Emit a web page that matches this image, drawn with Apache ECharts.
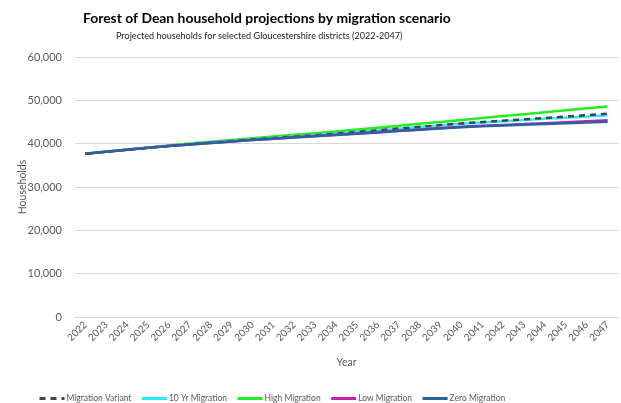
<!DOCTYPE html>
<html>
<head>
<meta charset="utf-8">
<script src="https://cdn.jsdelivr.net/npm/echarts@6/dist/echarts.min.js"></script>
<style>
  html, body { margin: 0; padding: 0; background: #fff; }
  #chart { width: 621px; height: 403px; }
</style>
</head>
<body>
<div id="chart"></div>
<script>
const years = ['2022','2023','2024','2025','2026','2027','2028','2029','2030','2031','2032','2033','2034',
  '2035','2036','2037','2038','2039','2040','2041','2042','2043','2044','2045','2046','2047'];

const migrationVariant = [37650,38160,38620,39060,39490,39880,40250,40600,40950,41280,41620,41960,42300,
  42680,43080,43480,43880,44280,44680,45000,45310,45620,45930,46240,46570,46900];
const tenYrMigration = [37650,38160,38620,39060,39490,39880,40250,40600,40950,41280,41620,41960,42300,
  42680,43060,43440,43820,44210,44600,44890,45170,45450,45730,46000,46280,46550];
const highMigration = [37650,38170,38660,39130,39580,40020,40440,40850,41250,41640,42030,42420,42810,
  43250,43690,44130,44580,45020,45470,45910,46360,46800,47250,47700,48150,48600];
const lowMigration = [37650,38150,38600,39030,39450,39820,40170,40500,40830,41150,41460,41760,42050,
  42360,42670,42980,43290,43600,43910,44120,44320,44510,44720,44930,45150,45380];
const zeroMigration = [37650,38150,38600,39030,39450,39820,40170,40500,40820,41130,41430,41720,42000,
  42300,42600,42900,43200,43500,43800,44000,44190,44370,44540,44710,44880,45050];

const seriesNames = ['Migration Variant', '10 Yr Migration', 'High Migration', 'Low Migration', 'Zero Migration'];

const FONT = 'Lato';
const GREY = '#595959';

function line(name, data, color, z, dashed) {
  return {
    name, type: 'line', data, z,
    symbol: 'none',
    lineStyle: { color, width: 2.5, type: dashed ? [6, 5] : 'solid' },
    itemStyle: { color }
  };
}

const chart = echarts.init(document.getElementById('chart'), null, { renderer: 'canvas' });
chart.setOption({
  animation: false,
  textStyle: { fontFamily: FONT },
  title: [
    {
      text: 'Forest of Dean household projections by migration scenario',
      left: 83, top: 12, padding: 0,
      textStyle: { fontFamily: FONT, fontSize: 13.9, fontWeight: 'bold', color: '#000' }
    },
    {
      text: 'Projected households for selected Gloucestershire districts (2022-2047)',
      left: 116, top: 32, padding: 0,
      textStyle: { fontFamily: FONT, fontSize: 9.1, fontWeight: 'normal', color: '#222' }
    }
  ],
  grid: { left: 75, right: 3, top: 57, bottom: 86, containLabel: false },
  xAxis: {
    type: 'category', data: years, boundaryGap: true,
    name: 'Year', nameLocation: 'middle', nameGap: 40,
    nameTextStyle: { fontFamily: FONT, fontSize: 10.5, color: GREY },
    axisLine: { lineStyle: { color: '#d9d9d9' } },
    axisTick: { lineStyle: { color: '#d9d9d9' }, length: 5 },
    axisLabel: { rotate: 45, fontFamily: FONT, fontSize: 10, color: GREY, margin: 6, interval: 0 }
  },
  yAxis: {
    type: 'value', min: 0, max: 60000, interval: 10000,
    name: 'Households', nameLocation: 'middle', nameGap: 47, nameMoveOverlap: false,
    nameTextStyle: { fontFamily: FONT, fontSize: 10.5, color: GREY },
    axisLine: { show: false }, axisTick: { show: false },
    splitLine: { lineStyle: { color: '#d9d9d9', width: 1 } },
    axisLabel: {
      fontFamily: FONT, fontSize: 11, color: GREY, margin: 13,
      formatter: v => v.toLocaleString('en-GB')
    }
  },
  legend: {
    top: 389, left: 33, itemWidth: 25, itemHeight: 10, itemGap: 9,
    textStyle: { fontFamily: FONT, fontSize: 8.5, color: GREY, padding: [0, 0, 0, -3] },
    itemStyle: { opacity: 0 },
    lineStyle: { width: 3 },
    data: seriesNames
  },
  series: [
    line('High Migration', highMigration, '#22ee22', 2),
    line('10 Yr Migration', tenYrMigration, '#22eeff', 3),
    line('Migration Variant', migrationVariant, '#444444', 4, true),
    line('Low Migration', lowMigration, '#c71fa8', 5),
    line('Zero Migration', zeroMigration, '#2e5fa3', 6)
  ]
});
</script>
</body>
</html>
